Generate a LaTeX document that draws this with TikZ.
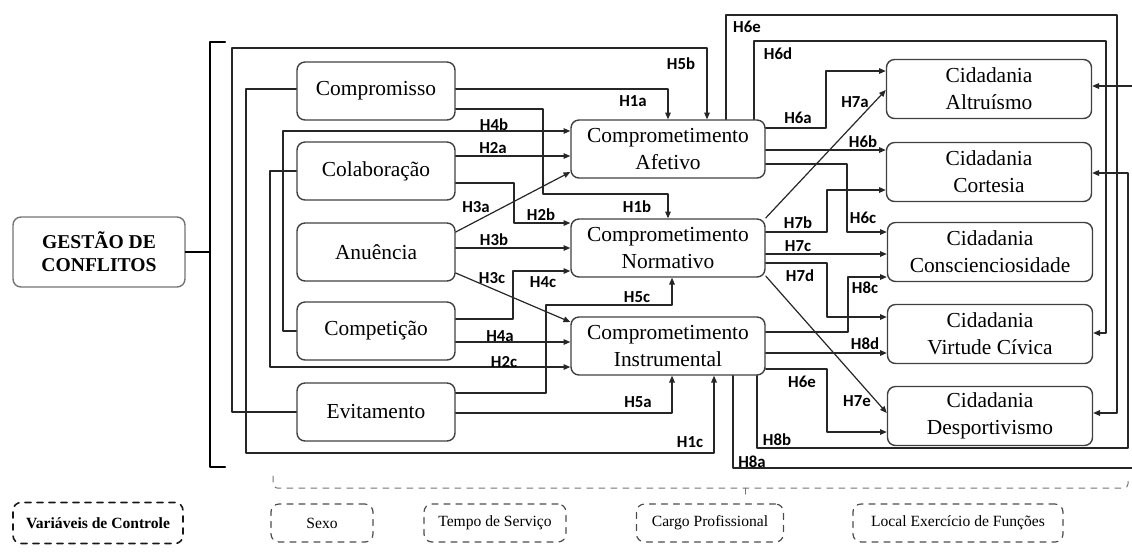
\documentclass[tikz,border=0pt]{standalone}
\usepackage{fontspec}
\setmainfont{Liberation Serif}
\newfontfamily\lblfont{Carlito}
\usetikzlibrary{arrows.meta}

\begin{document}
\begin{tikzpicture}[line cap=round,line join=round,>={Triangle[length=3.4pt,width=2.8pt]},x=0.5pt,y=-0.5pt,
 box/.style={draw=black!75,line width=0.7pt,rounded corners=4pt,align=center,inner sep=0pt,
   font=\fontsize{10.7}{13.5}\selectfont},
 lbox/.style={box,minimum width=79pt,minimum height=29pt},
 mbox/.style={box,minimum width=97pt,minimum height=29pt},
 rbox/.style={box,minimum width=102.5pt,minimum height=29.5pt},
 lbl/.style={font=\lblfont\bfseries\fontsize{8.4}{10}\selectfont},
 link/.style={->,draw=black!85,line width=0.6pt},
 ctrl/.style={draw=black!70,dashed,line width=0.6pt,rounded corners=4pt,inner sep=0pt,
   minimum height=19pt,font=\fontsize{7.8}{9}\selectfont}]
\useasboundingbox (0,0) rectangle (1132,554);
\clip (0,0) rectangle (1132,554);

% gestao de conflitos + brace
\node[box,draw=black!55,minimum width=86pt,minimum height=35pt,
  font=\bfseries\fontsize{9.8}{11.5}\selectfont] (gestao) at (99,252) {GESTÃO DE\\CONFLITOS};
\draw[line width=1.1pt] (225,42) -| (210,467) -- (225,467);
\draw[line width=1.1pt] (gestao.east) -- (210,0 |- gestao.east);

% estilos de gestao
\node[lbox] (comp) at (376,91) {Compromisso};
\node[lbox] (colab) at (376,171) {Colaboração};
\node[lbox] (anue) at (376,252) {Anuência};
\node[lbox] (compet) at (376,331) {Competição};
\node[lbox] (evit) at (376,412) {Evitamento};

% comprometimento
\node[mbox] (afet) at (668,149) {Comprometimento\\Afetivo};
\node[mbox] (norm) at (668,248) {Comprometimento\\Normativo};
\node[mbox] (instr) at (668,346) {Comprometimento\\Instrumental};

% cidadania
\node[rbox] (altr) at (989,89) {Cidadania\\Altruísmo};
\node[rbox] (cort) at (989,172) {Cidadania\\Cortesia};
\node[rbox] (consc) at (990,252) {Cidadania\\Conscienciosidade};
\node[rbox] (virt) at (990,334) {Cidadania\\Virtude Cívica};
\node[rbox] (desp) at (990,416) {Cidadania\\Desportivismo};

% H1 - H5
\draw[link] (evit.west) -| (232,48) -| (707,0 |- afet.north);
\draw[link] (comp.east |- 0,89) -| (afet.north);
\draw[link] (comp.east |- 0,109) -| (543,194) -| (norm.north);
\draw[link] (comp.west |- 0,89) -| (246,453) -| (714,0 |- instr.south);
\draw[link] (colab.east |- 0,156) -- (afet.west |- 0,156);
\draw[link] (colab.east |- 0,183) -| (514,223) -- (norm.west |- 0,223);
\draw[link] (colab.west) -| (270,367) -- (instr.west |- 0,367);
\draw[link] (anue.east |- 0,232) -- (afet.west |- 0,172);
\draw[link] (anue.east |- 0,248) -- (norm.west |- 0,248);
\draw[link] (anue.east |- 0,273) -- (instr.west |- 0,322);
\draw[link] (compet.west) -| (283,131) -- (afet.west |- 0,131);
\draw[link] (compet.east |- 0,319) -| (513,271) -- (norm.west |- 0,271);
\draw[link] (compet.east |- 0,342) -- (instr.west |- 0,342);
\draw[link] (evit.east |- 0,393) -| (546,305) -| (672,0 |- norm.south);
\draw[link] (evit.east |- 0,413) -| (672,0 |- instr.south);

% H6 - H8
\draw[link] (afet.east |- 0,128) -| (826,71) -- (altr.west |- 0,71);
\draw[link] (afet.east |- 0,150) -- (cort.west |- 0,150);
\draw[link] (afet.east |- 0,164) -| (847,232) -- (consc.west |- 0,232);
\draw[link] (754,0 |- afet.north) |- (1106,41) |- (virt.east |- 0,333);
\draw[link] (726,0 |- afet.north) |- (1117,15) |- (desp.east |- 0,413);
\draw[link] (norm.east |- 0,218) -- (altr.west |- 0,90);
\draw[link] (norm.east |- 0,232) -| (827,190) -- (cort.west |- 0,190);
\draw[link] (norm.east |- 0,254) -- (consc.west |- 0,254);
\draw[link] (norm.east |- 0,263) -| (827,317) -- (virt.west |- 0,317);
\draw[link] (norm.east |- 0,276) -- (desp.west |- 0,413);
\draw[link] (instr.east |- 0,332) -| (848,277) -- (consc.west |- 0,277);
\draw[link] (instr.east |- 0,353) -- (virt.west |- 0,353);
\draw[link] (instr.east |- 0,369) -| (827,432) -- (desp.west |- 0,432);
\draw[link] (757,0 |- instr.south) |- (1128,448) |- (cort.east |- 0,173);
\draw[link] (733,0 |- instr.south) |- (1140,468) |- (altr.east |- 0,86);

% labels
\node[lbl] (l5b) at (681,64) {H5b};
\node[lbl] (l1a) at (633,101) {H1a};
\node[lbl] (l4b) at (494,125) {H4b};
\node[lbl] (l2a) at (493,148) {H2a};
\node[lbl] (l3a) at (476,207) {H3a};
\node[lbl] (l2b) at (541,215) {H2b};
\node[lbl] (l1b) at (637,207) {H1b};
\node[lbl] (l3b) at (494,240) {H3b};
\node[lbl] (l3c) at (492,278) {H3c};
\node[lbl] (l4c) at (543,282) {H4c};
\node[lbl] (l5c) at (637,297) {H5c};
\node[lbl] (l4a) at (500,336) {H4a};
\node[lbl] (l2c) at (504,362) {H2c};
\node[lbl] (l5a) at (638,402) {H5a};
\node[lbl] (l1c) at (690,442) {H1c};
\node[lbl] (l6e) at (747,27) {H6e};
\node[lbl] (l6d) at (778,54) {H6d};
\node[lbl] (l6a) at (798,118) {H6a};
\node[lbl] (l7a) at (855,102) {H7a};
\node[lbl] (l6b) at (863,142) {H6b};
\node[lbl] (l6c) at (863,218) {H6c};
\node[lbl] (l7b) at (798,223) {H7b};
\node[lbl] (l7c) at (798,246) {H7c};
\node[lbl] (l7d) at (800,276) {H7d};
\node[lbl] (l8c) at (865,288) {H8c};
\node[lbl] (l8d) at (865,344) {H8d};
\node[lbl] (l6e2) at (802,382) {H6e};
\node[lbl] (l7e) at (857,401) {H7e};
\node[lbl] (l8b) at (777,440) {H8b};
\node[lbl] (l8a) at (752,462) {H8a};

% variaveis de controle
\node[ctrl,draw=black!90,line width=0.8pt,minimum width=85pt,minimum height=20.5pt,
  font=\bfseries\fontsize{7.8}{9}\selectfont] (ctrlvar) at (98,523) {Variáveis de Controle};
\node[ctrl,minimum width=51pt] (sexo) at (322,523) {Sexo};
\node[ctrl,minimum width=71pt] (tempo) at (495,523) {Tempo de Serviço};
\node[ctrl,minimum width=73.5pt] (cargo) at (710,523) {Cargo Profissional};
\node[ctrl,minimum width=105pt] (local) at (958,523) {Local Exercício de Funções};
\draw[dashed,draw=black!55,line width=0.5pt,rounded corners=2pt] (273,476) |- (1128,488) -- (1128,476);
\draw[dashed,draw=black!55,line width=0.5pt] (745,488) -- (745,494);
\end{tikzpicture}
\end{document}
